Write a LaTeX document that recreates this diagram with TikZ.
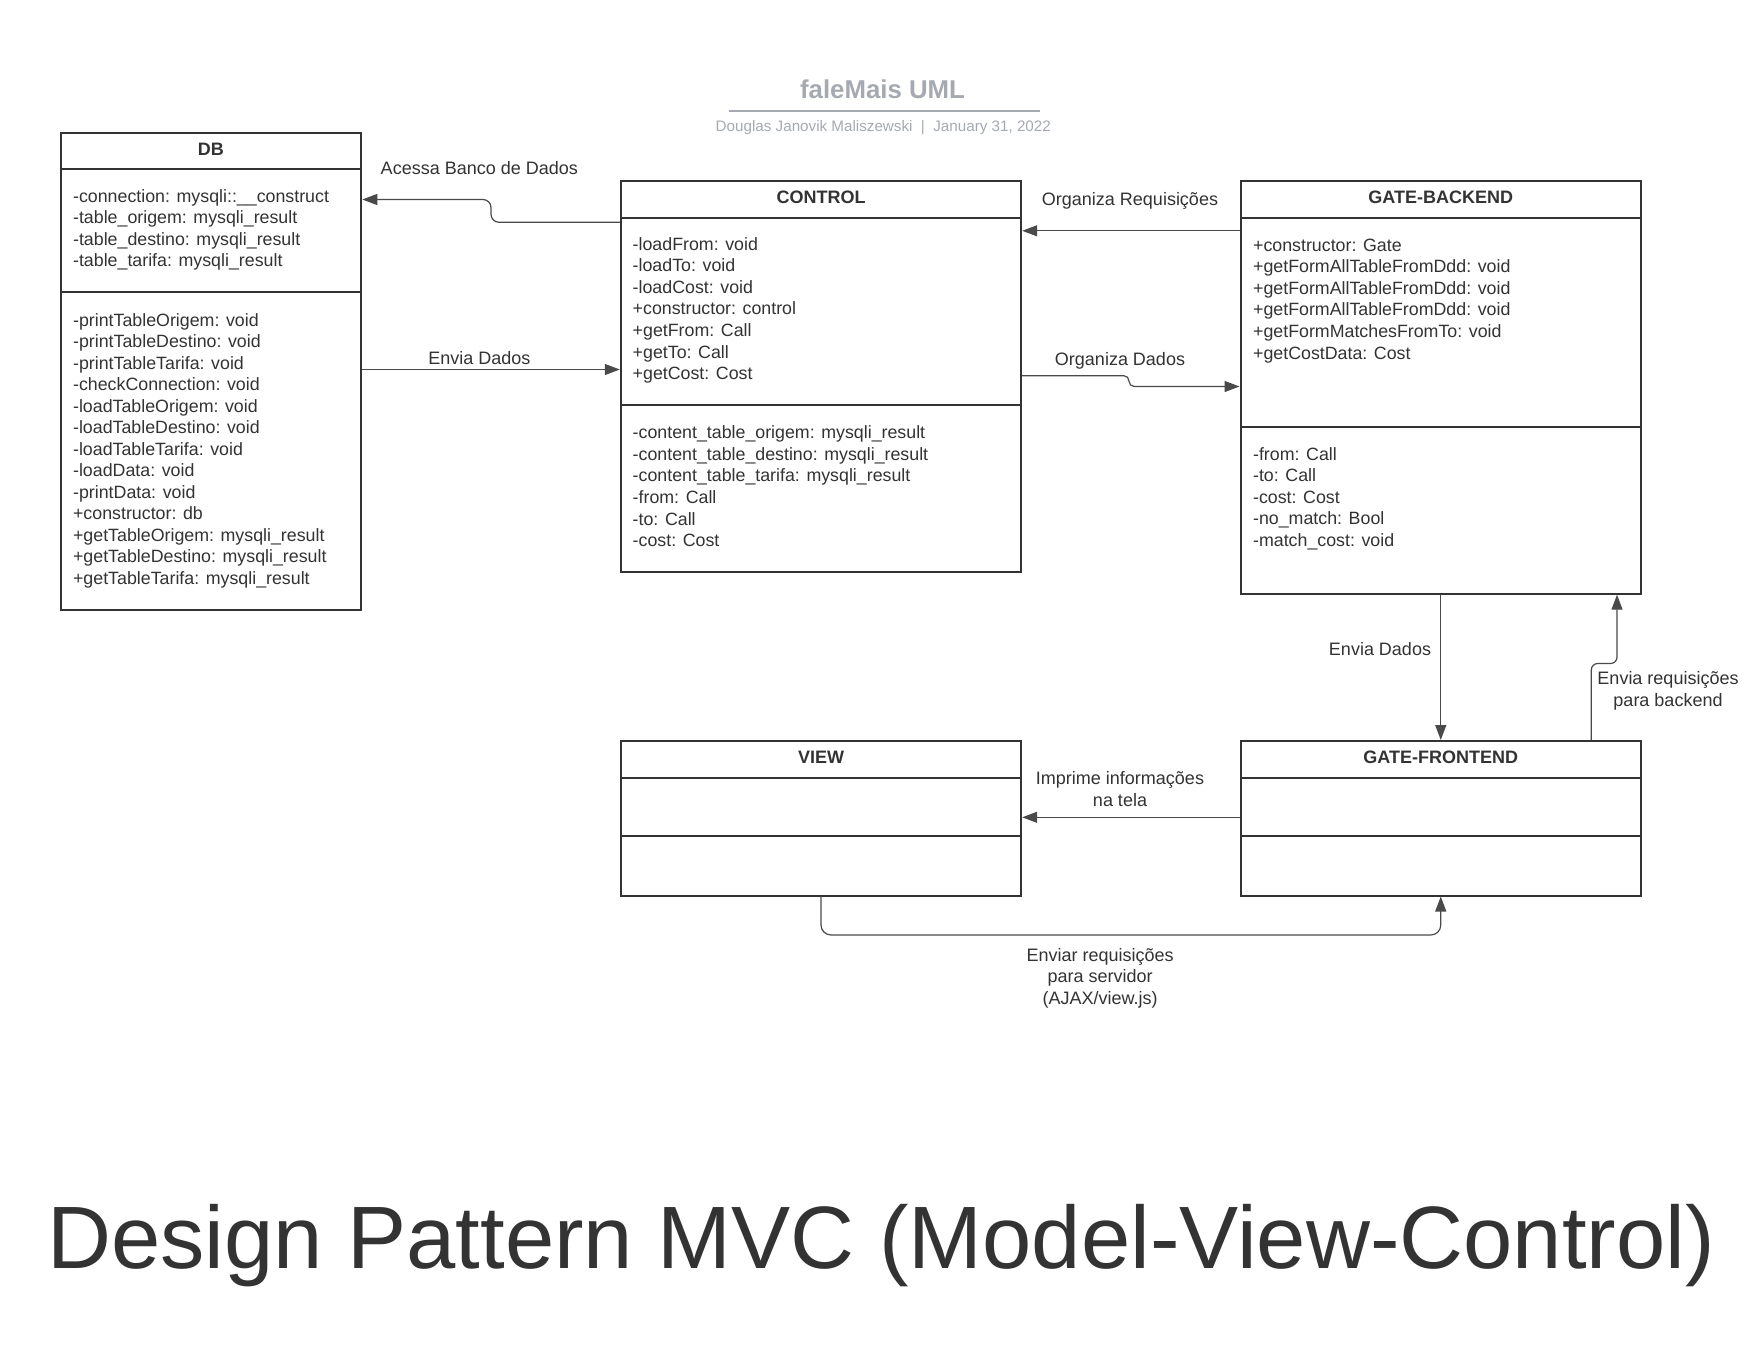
\documentclass[tikz,border=0pt]{standalone}
\usepackage{fontspec}
\setmainfont{Liberation Sans}
\usetikzlibrary{arrows.meta}
\definecolor{ink}{HTML}{333333}
\definecolor{lineclr}{HTML}{4A4A4A}
\definecolor{titlegray}{HTML}{A5AAB2}
\begin{document}
\begin{tikzpicture}[x=0.5pt,y=-0.5pt,
  box/.style={draw=ink, line width=1pt, inner sep=0pt, anchor=north west},
  divider/.style={draw=ink, line width=1pt},
  member/.style={font=\fontsize{8.9}{10.8}\selectfont, text=ink, inner sep=0pt, anchor=base west},
  header/.style={font=\bfseries\fontsize{9}{10.8}\selectfont, text=ink, inner sep=0pt, anchor=base},
  lbl/.style={font=\fontsize{9}{10.8}\selectfont, text=ink, inner sep=0pt, anchor=base},
  conn/.style={draw=lineclr, line width=0.6pt, -{Triangle[length=7.5pt,width=5.5pt]}}
]
\useasboundingbox (0,0) rectangle (1760,1360);
\fill[white] (0,0) rectangle (1760,1360);

% title block
\node[font=\bfseries\fontsize{12.9}{15}\selectfont, text=titlegray, inner sep=0pt, anchor=base] (title) at (882.5,98) {faleMais UML};
\draw[titlegray, line width=1pt] (729,110.7) -- (1040,110.7);
\node[font=\fontsize{7.6}{9}\selectfont, text=titlegray, inner sep=0pt, anchor=base] (subtitle) at (883.3,131.5) {Douglas Janovik Maliszewski\ \ |\ \ January 31, 2022};

% boxes
\node[box, minimum width=150.4pt, minimum height=238.65pt] (db) at (59.5,131.5) {};
\node[box, minimum width=200.2pt, minimum height=195.25pt] (ctrl) at (619.8,180) {};
\node[box, minimum width=200.25pt, minimum height=206.35pt] (gb) at (1239.5,180) {};
\node[box, minimum width=200.2pt, minimum height=77.25pt] (view) at (619.8,740) {};
\node[box, minimum width=200.25pt, minimum height=77.25pt] (gf) at (1239.5,740) {};

% dividers
\draw[divider] (db.west |- 0,169) -- (db.east |- 0,169);
\draw[divider] (db.west |- 0,292) -- (db.east |- 0,292);
\draw[divider] (ctrl.west |- 0,217.7) -- (ctrl.east |- 0,217.7);
\draw[divider] (ctrl.west |- 0,405) -- (ctrl.east |- 0,405);
\draw[divider] (gb.west |- 0,217.7) -- (gb.east |- 0,217.7);
\draw[divider] (gb.west |- 0,426.7) -- (gb.east |- 0,426.7);
\draw[divider] (view.west |- 0,777.7) -- (view.east |- 0,777.7);
\draw[divider] (view.west |- 0,836) -- (view.east |- 0,836);
\draw[divider] (gf.west |- 0,777.7) -- (gf.east |- 0,777.7);
\draw[divider] (gf.west |- 0,836) -- (gf.east |- 0,836);

% headers
\node[header] (dbh) at (db.north |- 0,155) {DB};
\node[header] (ctrlh) at (ctrl.north |- 0,203.5) {CONTROL};
\node[header] (gbh) at (gb.north |- 0,203.5) {GATE-BACKEND};
\node[header] (viewh) at (view.north |- 0,763.5) {VIEW};
\node[header] (gfh) at (gf.north |- 0,763.5) {GATE-FRONTEND};

% DB members
\foreach \t [count=\i from 0] in {{-connection: mysqli::\_\_construct},{-table\_origem: mysqli\_result},{-table\_destino: mysqli\_result},{-table\_tarifa: mysqli\_result}}
  \node[member] (dba\i) at (72.7,{202+21.5*\i}) {\t};
\foreach \t [count=\i from 0] in {{-printTableOrigem: void},{-printTableDestino: void},{-printTableTarifa: void},{-checkConnection: void},{-loadTableOrigem: void},{-loadTableDestino: void},{-loadTableTarifa: void},{-loadData: void},{-printData: void},{+constructor: db},{+getTableOrigem: mysqli\_result},{+getTableDestino: mysqli\_result},{+getTableTarifa: mysqli\_result}}
  \node[member] (dbm\i) at (72.7,{326+21.5*\i}) {\t};

% CONTROL members
\foreach \t [count=\i from 0] in {{-loadFrom: void},{-loadTo: void},{-loadCost: void},{+constructor: control},{+getFrom: Call},{+getTo: Call},{+getCost: Cost}}
  \node[member] (ctm\i) at (632.3,{250+21.6*\i}) {\t};
\foreach \t [count=\i from 0] in {{-content\_table\_origem: mysqli\_result},{-content\_table\_destino: mysqli\_result},{-content\_table\_tarifa: mysqli\_result},{-from: Call},{-to: Call},{-cost: Cost}}
  \node[member] (cta\i) at (632.3,{438.7+21.6*\i}) {\t};

% GATE-BACKEND members
\foreach \t [count=\i from 0] in {{+constructor: Gate},{+getFormAllTableFromDdd: void},{+getFormAllTableFromDdd: void},{+getFormAllTableFromDdd: void},{+getFormMatchesFromTo: void},{+getCostData: Cost}}
  \node[member] (gbm\i) at (1252.7,{251+21.6*\i}) {\t};
\foreach \t [count=\i from 0] in {{-from: Call},{-to: Call},{-cost: Cost},{-no\_match: Bool},{-match\_cost: void}}
  \node[member] (gba\i) at (1252.7,{460+21.6*\i}) {\t};

% connectors
\draw[conn, rounded corners=4pt] (ctrl.west |- 0,222.3) -- (491,222.3) -- (491,199.5) -- (db.east |- 0,199.5);
\draw[conn] (db.east |- 0,369.5) -- (ctrl.west |- 0,369.5);
\draw[conn] (gb.west |- 0,230.8) -- (ctrl.east |- 0,230.8);
\draw[conn, rounded corners=2.6pt] (ctrl.east |- 0,375.7) -- (1129,375.7) -- (1129,386.5) -- (gb.west |- 0,386.5);
\draw[conn] (gb.south) -- (gf.north);
\draw[conn, rounded corners=3.2pt] (gf.north -| 1591.3,0) -- (1591.3,663.5) -- (1617,663.5) -- (gb.south -| 1617,0);
\draw[conn] (gf.west |- 0,817.3) -- (view.east |- 0,817.3);
\draw[conn, rounded corners=5pt] (view.south) -- (view.south |- 0,935) -- (gf.south |- 0,935) -- (gf.south);

% connector labels
\node[lbl] (l1) at (479.3,174.4) {Acessa Banco de Dados};
\node[lbl] (l2) at (479.3,364.2) {Envia Dados};
\node[lbl] (l3) at (1130,205) {Organiza Requisições};
\node[lbl] (l4) at (1120,365) {Organiza Dados};
\node[lbl] (l5) at (1380,655.5) {Envia Dados};
\node[lbl] (l6a) at (1668,684.8) {Envia requisições};
\node[lbl] (l6b) at (1668,706) {para backend};
\node[lbl] (l7a) at (1120,784.5) {Imprime informações};
\node[lbl] (l7b) at (1120,806) {na tela};
\node[lbl] (l8a) at (1100.2,961.2) {Enviar requisições};
\node[lbl] (l8b) at (1100.2,982.7) {para servidor};
\node[lbl] (l8c) at (1100.2,1004.2) {(AJAX/view.js)};

% big title
\node[font=\fontsize{44.3}{50}\selectfont, text=ink, inner sep=0pt, anchor=base] (bigtitle) at (881,1268.3) {Design Pattern MVC (Model-View-Control)};
\end{tikzpicture}
\end{document}
